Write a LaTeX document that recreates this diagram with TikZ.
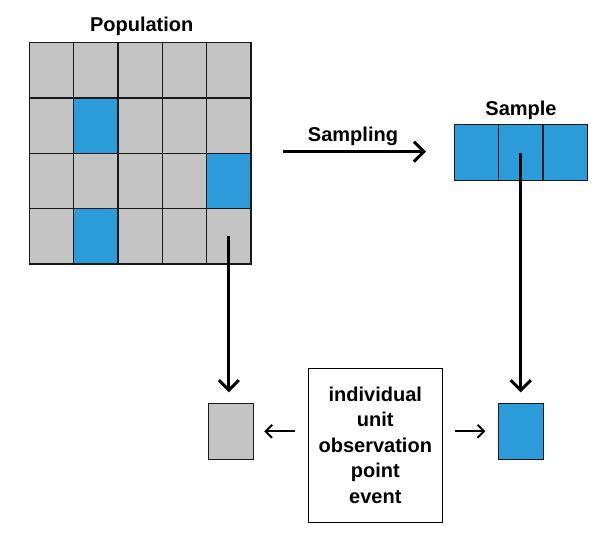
\documentclass[tikz,border=0pt]{standalone}
\usepackage{fontspec}
\setmainfont{Liberation Sans}
\usetikzlibrary{arrows.meta}
\definecolor{cellgray}{HTML}{C4C4C4}
\definecolor{cellblue}{HTML}{2C9BDA}
\begin{document}
\begin{tikzpicture}[x=1pt,y=-1pt,
  cell/.style={draw=black!90, line width=1.3pt, fill=cellgray, minimum width=44.35pt, minimum height=55.35pt, inner sep=0pt, outer sep=0pt, anchor=north west},
  bluecell/.style={cell, fill=cellblue},
  lbl/.style={font=\fontsize{20}{24}\selectfont\bfseries, inner sep=0pt},
  bigarrow/.style={line width=3pt, -{Straight Barb[length=10pt, width=20pt]}},
  smallarrow/.style={line width=1.9pt, -{Straight Barb[length=6.5pt, width=13pt]}},
  textbox/.style={draw=black, line width=1.3pt, fill=white, minimum width=134pt, minimum height=154pt, align=center, inner sep=0pt, font=\fontsize{20}{25.5}\selectfont\bfseries}
]
\useasboundingbox (0,0) rectangle (616,551);
\fill[white] (0,0) rectangle (616,551);
% population grid
\foreach \r in {0,...,3}{
  \foreach \c in {0,...,4}{
    \node[cell] (p-\r-\c) at ({29.3+44.35*\c},{42.7+55.35*\r}) {};
  }
}
\node[bluecell] (p-1-1b) at ({29.3+44.35*1},{42.7+55.35*1}) {};
\node[bluecell] (p-2-4b) at ({29.3+44.35*4},{42.7+55.35*2}) {};
\node[bluecell] (p-3-1b) at ({29.3+44.35*1},{42.7+55.35*3}) {};
\node[lbl] (poplbl) at (141.7,26) {Population};
% sample
\foreach \c in {0,1,2}{
  \node[bluecell, minimum width=44.33pt, minimum height=56.4pt] (s-\c) at ({454.3+44.33*\c},124.3) {};
}
\node[lbl] (samplbl) at (521,110) {Sample};
% sampling arrow
\coordinate (sa) at (282.7,151.7);
\coordinate (sb) at (426,151.7);
\draw[bigarrow] (sa) -- (sb);
\node[lbl] (sampling) at (353,136.5) {Sampling};
% bottom boxes
\node[cell, minimum width=45pt, minimum height=56pt, anchor=center] (graybox) at (230.8,431.3) {};
\node[bluecell, minimum width=45pt, minimum height=56pt, anchor=center] (bluebox) at (520.8,431.3) {};
\node[textbox] (desc) at (375.3,445.3) {individual\\unit\\observation\\point\\event};
% vertical arrows
\draw[bigarrow, shorten >=11pt] (p-3-4.center) -- (p-3-4.center |- graybox.north);
\draw[bigarrow, shorten >=11pt] (s-1.center) -- (s-1.center |- bluebox.north);
% small arrows
\draw[smallarrow, shorten <=13pt, shorten >=11pt] (desc.west |- graybox.east) -- (graybox.east);
\draw[smallarrow, shorten <=12pt, shorten >=13pt] (desc.east |- bluebox.west) -- (bluebox.west);
\end{tikzpicture}
\end{document}
